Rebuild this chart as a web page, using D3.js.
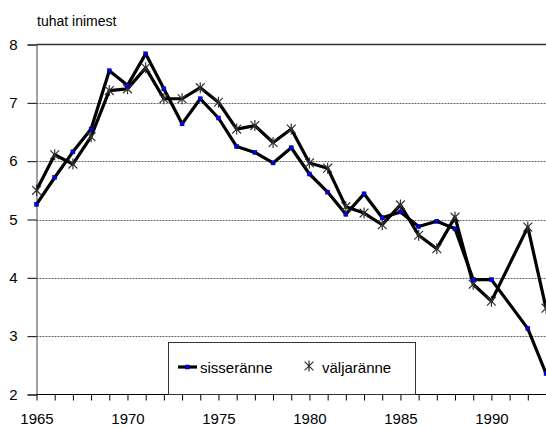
<!DOCTYPE html>
<html>
<head>
<meta charset="utf-8">
<script src="https://cdn.jsdelivr.net/npm/d3@7"></script>
<style>
    body { margin: 0; background: #fff; }
    svg { display: block; font-family: "Liberation Sans", Arial, sans-serif; }
</style>
</head>
<body>
<script>
//chart data
var years = [1965, 1966, 1967, 1968, 1969, 1970, 1971, 1972, 1973, 1974,
    1975, 1976, 1977, 1978, 1979, 1980, 1981, 1982, 1983, 1984,
    1985, 1986, 1987, 1988, 1989, 1990, 1991, 1992, 1993];

//sisseränne (in), thousands of people; 1991 missing
var sisse = [5.26, 5.72, 6.16, 6.55, 7.55, 7.30, 7.84, 7.24, 6.64, 7.07,
    6.74, 6.25, 6.15, 5.97, 6.23, 5.78, 5.47, 5.09, 5.44, 5.03,
    5.13, 4.88, 4.97, 4.84, 3.97, 3.97, null, 3.13, 2.36];

//väljaränne (out)
var valja = [5.50, 6.11, 5.95, 6.42, 7.21, 7.24, 7.60, 7.07, 7.07, 7.26,
    7.01, 6.55, 6.61, 6.32, 6.55, 5.97, 5.88, 5.22, 5.11, 4.91,
    5.25, 4.73, 4.50, 5.04, 3.89, 3.60, null, 4.87, 3.48];

var yTicks = [2, 3, 4, 5, 6, 7, 8];
var xLabelYears = [1965, 1970, 1975, 1980, 1985, 1990];
var seriesNames = ["sisseränne", "väljaränne"];
var unitLabel = "tuhat inimest";

window.onload = function() {

    var width = 546, height = 428;

    var svg = d3.select("body")
        .append("svg")
        .attr("width", width)
        .attr("height", height);

    //scales
    var x = d3.scaleLinear()
        .domain([1965, 1993])
        .range([36.5, 546]);

    var y = d3.scaleLinear()
        .domain([2, 8])
        .range([394.5, 44.5]);

    //gridlines (dotted)
    svg.append("g")
        .attr("class", "grid")
        .selectAll("line")
        .data(yTicks.filter(function(d) { return d > 2 && d < 8; }))
        .enter()
        .append("line")
        .attr("x1", x(1965))
        .attr("x2", width)
        .attr("y1", function(d) { return Math.round(y(d)) + 0.5; })
        .attr("y2", function(d) { return Math.round(y(d)) + 0.5; })
        .style("stroke", "#666")
        .style("stroke-width", 1.2)
        .style("stroke-dasharray", "2,1");

    //top border of the plot
    svg.append("line")
        .attr("x1", x(1965))
        .attr("x2", width)
        .attr("y1", y(8))
        .attr("y2", y(8))
        .style("stroke", "#333")
        .style("stroke-width", 1.6);

    //y axis
    var yAxis = d3.axisLeft(y)
        .tickValues(yTicks)
        .tickSize(9)
        .tickPadding(10)
        .tickFormat(d3.format("d"));

    var gy = svg.append("g")
        .attr("class", "y axis")
        .attr("transform", "translate(" + x(1965) + ",0)")
        .call(yAxis);

    //x axis, tick every year
    var xAxis = d3.axisBottom(x)
        .tickValues(years.slice(0, years.length - 1))
        .tickSize(6)
        .tickPadding(13)
        .tickFormat(function(d) {
            return xLabelYears.indexOf(d) >= 0 ? d : "";
        });

    var gx = svg.append("g")
        .attr("class", "x axis")
        .attr("transform", "translate(0," + y(2) + ")")
        .call(xAxis);

    gx.select(".domain").attr("d", "M" + x(1965) + ",0H" + width);

    svg.selectAll(".axis path, .axis line")
        .style("stroke", "#000")
        .style("stroke-width", 1);

    gy.select(".domain").style("stroke", "#444");

    svg.selectAll(".axis text")
        .style("font-size", "15px")
        .style("fill", "#000");

    //unit title
    svg.append("text")
        .attr("x", 37)
        .attr("y", 26)
        .style("font-size", "14px")
        .text(unitLabel);

    //legend box (drawn before lines so the lines pass over it)
    var legend = svg.append("g").attr("class", "legend");

    legend.append("rect")
        .attr("x", 168.5)
        .attr("y", 342.5)
        .attr("width", 247)
        .attr("height", 52)
        .style("fill", "#fff")
        .style("stroke", "#333")
        .style("stroke-width", 1);

    //line generator; missing values are filtered out so the line connects across them
    var line = d3.line()
        .x(function(d) { return x(d.year); })
        .y(function(d) { return y(d.value); });

    function pts(values) {
        return years.map(function(yr, i) {
            return { year: yr, value: values[i] };
        }).filter(function(d) { return d.value !== null; });
    }

    var sissePts = pts(sisse);
    var valjaPts = pts(valja);

    //asterisk marker path (vertical + X)
    function star(cx, cy, r) {
        var a = r * 0.8;
        return "M" + cx + "," + (cy - r) + "V" + (cy + r) +
            "M" + (cx - a) + "," + (cy - a) + "L" + (cx + a) + "," + (cy + a) +
            "M" + (cx - a) + "," + (cy + a) + "L" + (cx + a) + "," + (cy - a);
    }

    //väljaränne line
    svg.append("path")
        .datum(valjaPts)
        .attr("d", line)
        .style("fill", "none")
        .style("stroke", "#000")
        .style("stroke-width", 3.2)
        .style("stroke-linejoin", "round");

    //sisseränne line
    svg.append("path")
        .datum(sissePts)
        .attr("d", line)
        .style("fill", "none")
        .style("stroke", "#000")
        .style("stroke-width", 3.2)
        .style("stroke-linejoin", "round");

    //asterisks
    svg.selectAll(".star")
        .data(valjaPts)
        .enter()
        .append("path")
        .attr("class", "star")
        .attr("d", function(d) { return star(x(d.year), y(d.value), 5.5); })
        .style("stroke", "#333")
        .style("stroke-width", 1.2);

    //blue squares
    svg.selectAll(".sq")
        .data(sissePts)
        .enter()
        .append("rect")
        .attr("class", "sq")
        .attr("x", function(d) { return x(d.year) - 2; })
        .attr("y", function(d) { return y(d.value) - 2; })
        .attr("width", 4)
        .attr("height", 4)
        .style("fill", "#0000ff")
        .style("stroke", "#000040")
        .style("stroke-width", 0.5);

    //legend entries
    legend.append("line")
        .attr("x1", 178)
        .attr("x2", 197)
        .attr("y1", 367)
        .attr("y2", 367)
        .style("stroke", "#000")
        .style("stroke-width", 3.2);

    legend.append("rect")
        .attr("x", 185.5)
        .attr("y", 365)
        .attr("width", 4)
        .attr("height", 4)
        .style("fill", "#0000ff")
        .style("stroke", "#000040")
        .style("stroke-width", 0.5);

    legend.append("text")
        .attr("x", 200)
        .attr("y", 373)
        .style("font-size", "15px")
        .text(seriesNames[0]);

    legend.append("path")
        .attr("d", star(309, 366, 5.5))
        .style("stroke", "#333")
        .style("stroke-width", 1.2);

    legend.append("text")
        .attr("x", 322)
        .attr("y", 373)
        .style("font-size", "15px")
        .text(seriesNames[1]);
};
</script>
</body>
</html>
